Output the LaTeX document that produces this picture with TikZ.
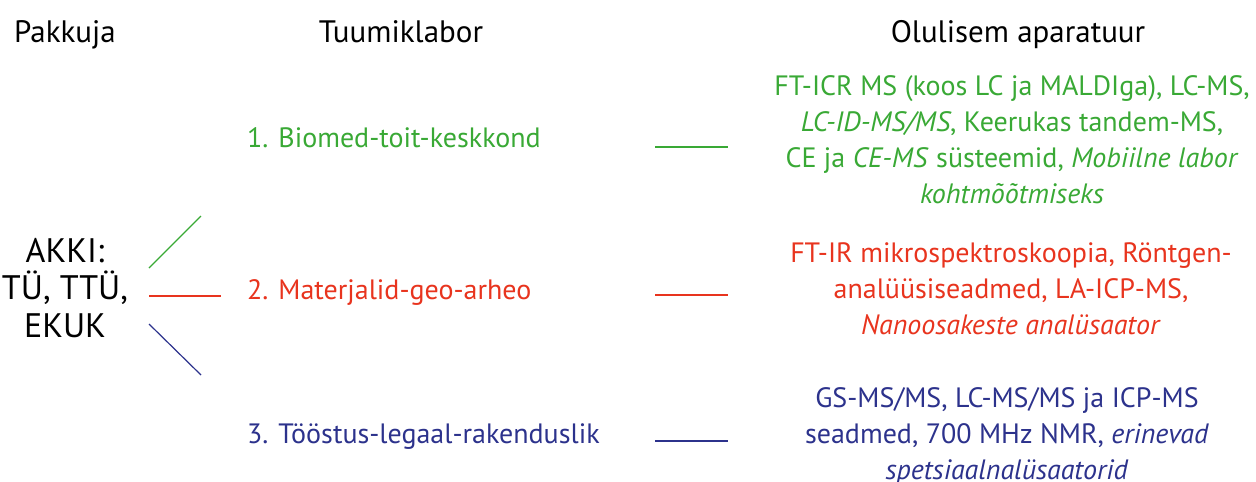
\documentclass[tikz,border=0pt]{standalone}
\usepackage{fontspec}
\setmainfont{PT Sans}
\usetikzlibrary{positioning}
\definecolor{biogreen}{RGB}{57,169,53}
\definecolor{matred}{RGB}{232,52,30}
\definecolor{indblue}{RGB}{44,50,140}

\begin{document}
\begin{tikzpicture}[x=1pt, y=-1pt,
    head/.style={anchor=base, inner sep=0pt, font=\fontsize{31}{36}\selectfont},
    lab/.style={anchor=base west, inner sep=0pt, font=\fontsize{28}{33}\selectfont},
    equip/.style={anchor=base, inner sep=0pt, align=center, font=\fontsize{28}{36}\selectfont},
    link/.style={line width=1.2pt}]
  \useasboundingbox (0,0) rectangle (1256,482);
  % column heads
  \node[head] (hp) at (65,42) {Pakkuja};
  \node[head] (ht) at (401,42) {Tuumiklabor};
  \node[head] (ha) at (1018,42) {Olulisem aparatuur};
  % provider (base = last line)
  \node[anchor=base, inner sep=0pt, align=center, font=\fontsize{34}{37.5}\selectfont]
    (akki) at (65,337) {AKKI:\\TÜ, TTÜ,\\EKUK};
  % core labs
  \node[lab, text=biogreen] (bio) at (247,147) {1. Biomed-toit-keskkond};
  \node[lab, text=matred] (mat) at (247,299) {2. Materjalid-geo-arheo};
  \node[lab, text=indblue] (ind) at (247,443) {3. Tööstus-legaal-rakenduslik};
  % equipment (base = last line)
  \node[equip, text=biogreen] (eqbio) at (1012,203)
    {FT-ICR MS (koos LC ja MALDIga), LC-MS,\\
     \textit{LC-ID-MS/MS}, Keerukas tandem-MS,\\
     CE ja \textit{CE-MS} süsteemid, \textit{Mobiilne labor}\\
     \textit{kohtmõõtmiseks}};
  \node[equip, text=matred] (eqmat) at (1011,334)
    {FT-IR mikrospektroskoopia, Röntgen-\\
     analüüsiseadmed, LA-ICP-MS,\\
     \textit{Nanoosakeste analüsaator}};
  \node[equip, text=indblue] (eqind) at (1007,479)
    {GS-MS/MS, LC-MS/MS ja ICP-MS\\
     seadmed, 700 MHz NMR, \textit{erinevad}\\
     \textit{spetsiaalnalüsaatorid}};
  % connectors
  \coordinate (g0) at (149,268); \coordinate (g1) at (201,216);
  \coordinate (r0) at (149,296); \coordinate (r1) at (221,296);
  \coordinate (b0) at (149,324); \coordinate (b1) at (201,375);
  \coordinate (g2) at (655,147); \coordinate (g3) at (728,147);
  \coordinate (r2) at (655,295); \coordinate (r3) at (728,295);
  \coordinate (b2) at (655,441); \coordinate (b3) at (728,441);
  \path[link]
    (g0) edge[biogreen] (g1)
    (r0) edge[matred] (r1)
    (b0) edge[indblue] (b1)
    (g2) edge[biogreen] (g3)
    (r2) edge[matred] (r3)
    (b2) edge[indblue] (b3);
\end{tikzpicture}
\end{document}
